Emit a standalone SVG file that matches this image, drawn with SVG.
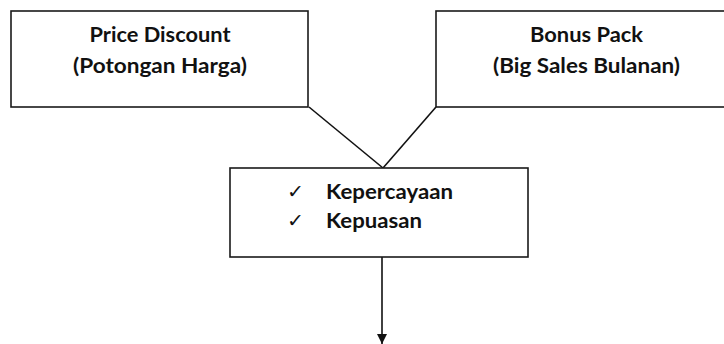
<svg xmlns="http://www.w3.org/2000/svg" width="724" height="344" viewBox="0 0 724 344">
<style>
.box{fill:#fff;stroke:#1a1a1a;stroke-width:1.6}
.t{font-family:Lato,"Liberation Sans",sans-serif;font-weight:bold;font-size:20px;fill:#111;text-anchor:middle}
.tl{font-family:Lato,"Liberation Sans",sans-serif;font-weight:bold;font-size:20px;fill:#111}
.ck{font-family:"DejaVu Sans",sans-serif;font-size:19px;fill:#111}
.c{stroke:#111;stroke-width:1.6;fill:none}
</style>
<defs>
<marker id="ah" viewBox="0 0 10 10" refX="10" refY="5" markerWidth="10" markerHeight="10" markerUnits="userSpaceOnUse" orient="auto">
<path d="M0,0 L10,5 L0,10 z" fill="#111"/>
</marker>
</defs>
<rect width="724" height="344" fill="#fff"/>
<g id="connectors">
<line class="c" x1="309" y1="107" x2="383" y2="168"/>
<line class="c" x1="436" y1="107" x2="383" y2="168"/>
<line class="c" x1="382" y1="257" x2="382" y2="344" marker-end="url(#ah)"/>
</g>
<g id="price-discount">
<rect class="box" x="11" y="11" width="297" height="96"/>
<text class="t" x="160" y="42" textLength="141" lengthAdjust="spacingAndGlyphs">Price Discount</text>
<text class="t" x="160" y="73" textLength="174" lengthAdjust="spacingAndGlyphs">(Potongan Harga)</text>
</g>
<g id="bonus-pack">
<rect class="box" x="436" y="11" width="300" height="96"/>
<text class="t" x="586.5" y="42" textLength="113" lengthAdjust="spacingAndGlyphs">Bonus Pack</text>
<text class="t" x="586.5" y="73" textLength="187" lengthAdjust="spacingAndGlyphs">(Big Sales Bulanan)</text>
</g>
<g id="hasil">
<rect class="box" x="230" y="168" width="298" height="89"/>
<text class="ck" x="287" y="198" textLength="17" lengthAdjust="spacingAndGlyphs">✓</text>
<text class="ck" x="287" y="227" textLength="17" lengthAdjust="spacingAndGlyphs">✓</text>
<text class="tl" x="326" y="199" textLength="127" lengthAdjust="spacingAndGlyphs">Kepercayaan</text>
<text class="tl" x="326" y="228" textLength="96" lengthAdjust="spacingAndGlyphs">Kepuasan</text>
</g>
</svg>
